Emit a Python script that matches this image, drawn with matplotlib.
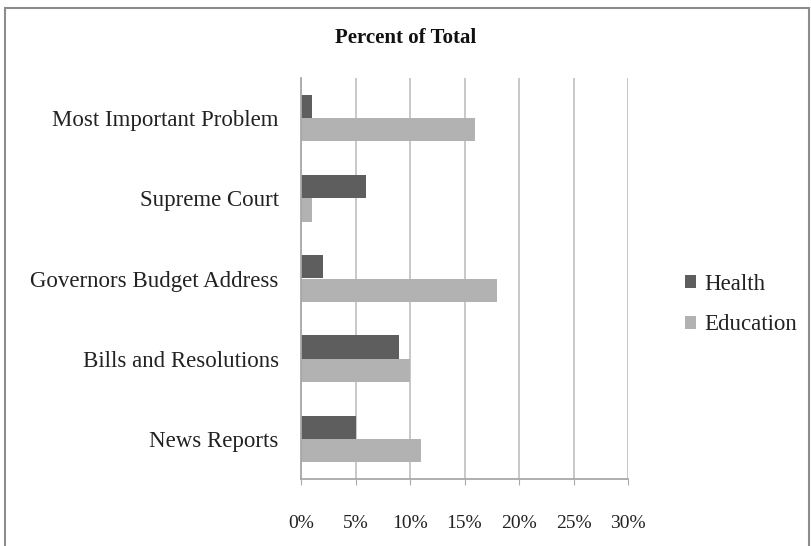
import numpy as np
import matplotlib.pyplot as plt
from matplotlib.patches import Rectangle
from matplotlib.ticker import FuncFormatter

# data (percent of total)
categories = ['Most Important Problem', 'Supreme Court', 'Governors Budget Address',
              'Bills and Resolutions', 'News Reports']
health = [1, 6, 2, 9, 5]
education = [16, 1, 18, 10, 11]
xticks = [0, 5, 10, 15, 20, 25, 30]

plt.rcParams['font.family'] = ['Liberation Serif', 'DejaVu Serif']

fig = plt.figure(figsize=(8.12, 5.46), dpi=100)
ax = fig.add_axes([301/812, 1 - 479/546, 327/812, 401/546])

# outer chart frame
fig.patches.append(Rectangle((5/812, -0.01), 804/812, 1 - 8/546 + 0.01,
                             transform=fig.transFigure, fill=False,
                             edgecolor='#8c8c8c', linewidth=1.5))

y = np.arange(len(categories))
h = 0.29
ax.barh(y - h/2, health, height=h, color='#5e5e5e', label='Health')
ax.barh(y + h/2, education, height=h, color='#b2b2b2', label='Education')

ax.set_ylim(len(categories) - 0.5, -0.5)
ax.set_xlim(0, 30)
ax.set_xticks(xticks)
ax.xaxis.set_major_formatter(FuncFormatter(lambda v, p: '%d%%' % v))
ax.set_yticks(y)
ax.set_yticklabels(categories, fontsize=16.5, color='#222222')

ax.grid(axis='x', color='#c4c4c4', linewidth=1.3)
ax.set_axisbelow(True)
for s in ['top', 'right']:
    ax.spines[s].set_visible(False)
ax.spines['left'].set_color('#a8a8a8')
ax.spines['bottom'].set_color('#a8a8a8')
ax.spines['left'].set_linewidth(1.3)
ax.spines['bottom'].set_linewidth(1.3)
ax.tick_params(axis='y', length=0, pad=16)
ax.tick_params(axis='x', length=4, color='#a8a8a8', pad=22, labelsize=14,
               labelcolor='#222222')

fig.text(0.5, 1 - 38/546, 'Percent of Total', ha='center', va='center',
         fontsize=15, fontweight='bold', color='#111111')

ax.legend(loc='center left', bbox_to_anchor=(1.11, 0.435), frameon=False,
          fontsize=16.5, handlelength=0.5, handleheight=0.5, handletextpad=0.35,
          labelspacing=0.85, labelcolor='#222222')

fig.savefig('out.png', dpi=100, facecolor='white')
